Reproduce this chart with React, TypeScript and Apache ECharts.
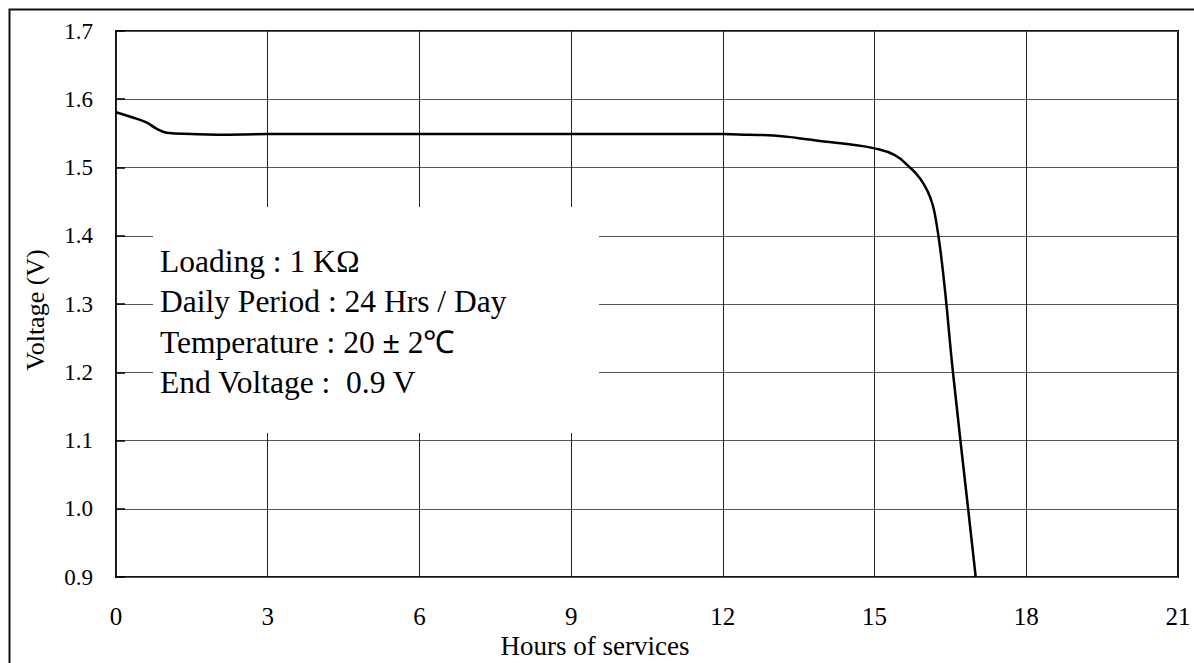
import React, { useEffect, useRef } from "react";
import * as echarts from "echarts";

const hours = [0, 0.3, 0.6, 0.8, 1.0, 1.5, 2.0, 3, 6, 9, 12, 12.5, 13, 13.5, 14, 14.5, 15, 15.4, 15.7, 15.9, 16.05, 16.15, 16.22, 16.3, 16.4, 16.55, 16.85, 17.0];
const volts = [1.581, 1.574, 1.566, 1.557, 1.551, 1.549, 1.548, 1.549, 1.549, 1.549, 1.549, 1.548, 1.547, 1.543, 1.538, 1.534, 1.528, 1.518, 1.5, 1.484, 1.465, 1.445, 1.42, 1.38, 1.315, 1.2, 1.0, 0.9];
const infoLines = ["Loading : 1 K\u2126", "Daily Period : 24 Hrs / Day", "Temperature : 20 {b|\u00b1} 2\u2103", "End Voltage :  0.9 V"];
const xTitle = "Hours of services";
const yTitle = "Voltage (V)";

const FONT = "Liberation Serif";

export default function App() {
  const ref = useRef<HTMLDivElement>(null);
  useEffect(() => {
    document.body.style.margin = "0";
    const chart = echarts.init(ref.current!, null, { renderer: "svg" });
    const infoY = [261, 301.5, 342, 382.5];
    chart.setOption({
      animation: false,
      backgroundColor: "#fff",
      textStyle: { fontFamily: FONT },
      grid: { left: 116, right: 16, top: 31, bottom: 86, show: true, borderColor: "#111", borderWidth: 2, backgroundColor: "transparent" },
      xAxis: {
        type: "value", min: 0, max: 21, interval: 3,
        axisLine: { show: false },
        axisTick: { show: false },
        axisLabel: { color: "#000", fontFamily: FONT, fontSize: 25, margin: 27 },
        splitLine: { show: true, lineStyle: { color: "#222", width: 1 } },
      },
      yAxis: {
        type: "value", min: 0.9, max: 1.7, interval: 0.1,
        axisLine: { show: false },
        axisTick: { show: true, inside: true, length: 9, lineStyle: { color: "#000", width: 1.5 } },
        axisLabel: { color: "#000", fontFamily: FONT, fontSize: 23, margin: 23, formatter: (v: number) => v.toFixed(1) },
        splitLine: { show: true, lineStyle: { color: "#555", width: 1 } },
      },
      graphic: [
        { type: "rect", left: 7, top: 7, shape: { x: 0, y: 0, width: 1200, height: 700 }, style: { fill: "none", stroke: "#111", lineWidth: 2 }, z: 10 },
        { type: "rect", shape: { x: 153, y: 207, width: 446, height: 226 }, style: { fill: "#fff" }, z: 5 },
        ...infoLines.map((t, i) => ({
          type: "text", x: 160, y: infoY[i], z: 6,
          style: {
            text: t, fill: "#000", font: `31.5px ${FONT}`, align: "left", verticalAlign: "middle",
            rich: { b: { fontFamily: FONT, fontSize: 31.5, fontWeight: "bold", fill: "#000" } },
          },
        })),
        { type: "text", x: 595, y: 646, z: 6, style: { text: xTitle, fill: "#000", font: `27px ${FONT}`, align: "center", verticalAlign: "middle" } },
        { type: "text", x: 35, y: 310, rotation: Math.PI / 2, z: 6, style: { text: yTitle, fill: "#000", font: `26px ${FONT}`, align: "center", verticalAlign: "middle" } },
      ],
      series: [{
        type: "line",
        data: hours.map((h, i) => [h, volts[i]]),
        showSymbol: false,
        smooth: 0.45,
        lineStyle: { color: "#000", width: 2.5 },
        z: 8,
      }],
    });
    return () => chart.dispose();
  }, []);
  return <div ref={ref} style={{ width: 1194, height: 663 }} />;
}
